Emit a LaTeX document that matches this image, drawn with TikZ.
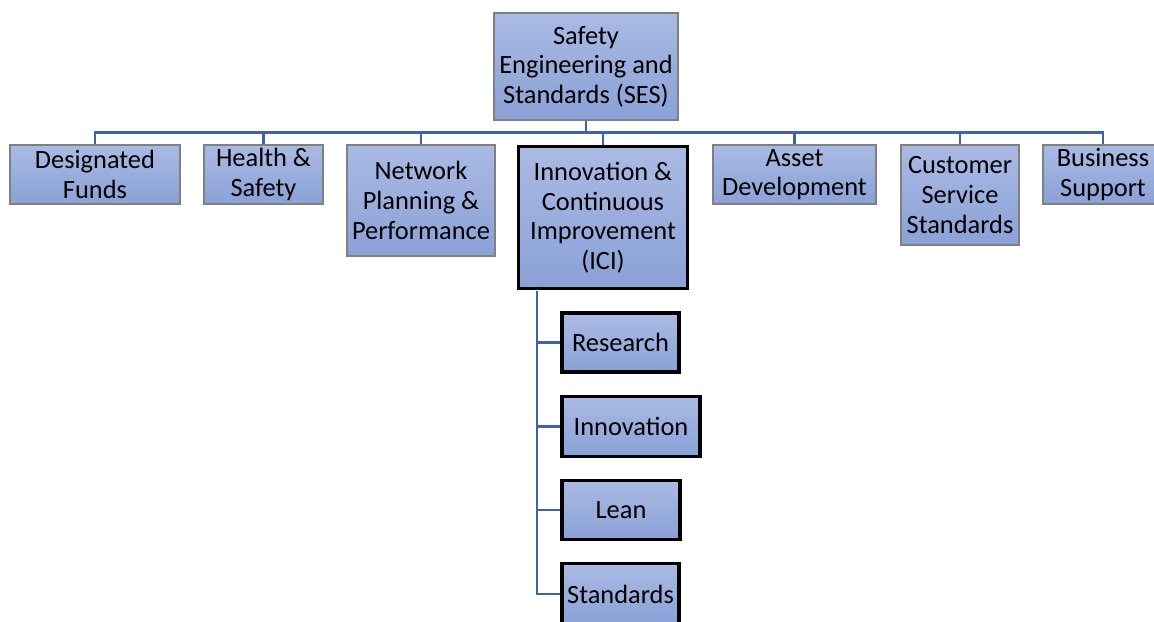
\documentclass[tikz,border=0pt]{standalone}
\usepackage{fontspec}
\setmainfont{Carlito}
\usetikzlibrary{positioning}
\definecolor{orgTop}{HTML}{AABAE3}
\definecolor{orgBottom}{HTML}{8AA1D7}
\definecolor{orgEdge}{HTML}{808080}
\definecolor{orgLink}{HTML}{3D63AB}

\begin{document}
\begin{tikzpicture}[
  x=0.5pt, y=-0.5pt,
  every node/.style={align=center, font=\fontsize{13.2}{14.8}\selectfont, inner sep=0pt},
  box/.style={draw=orgEdge, line width=0.6pt, top color=orgTop, bottom color=orgBottom},
  lead/.style={box, draw=black, line width=1.8pt},
  link/.style={orgLink, line width=1.4pt},
]
  \useasboundingbox (0,0) rectangle (1154,621);

  % top unit
  \node[box, minimum width=92pt, minimum height=53.5pt] (ses) at (586,66.5) {Safety\\Engineering and\\Standards (SES)};

  % departments
  \node[box, minimum width=85pt, minimum height=29.5pt] (df) at (95,174.5) {Designated\\Funds};
  \node[box, minimum width=59.5pt, minimum height=29.5pt] (hs) at (263.5,174.5) {Health \&\\Safety};
  \node[box, minimum width=74pt, minimum height=55.5pt] (npp) at (421,200.5) {Network\\Planning \&\\Performance};
  \node[lead, minimum width=84.5pt, minimum height=71pt] (ici) at (603,217.5) {Innovation \&\\Continuous\\Improvement\\(ICI)};
  \node[box, minimum width=81.5pt, minimum height=29.5pt] (ad) at (794.5,174.5) {Asset\\Development};
  \node[box, minimum width=59pt, minimum height=50pt] (css) at (960,195) {Customer\\Service\\Standards};
  \node[box, minimum width=60pt, minimum height=29.5pt] (bs) at (1103,174.5) {Business\\Support};

  % ICI teams
  \node[lead, minimum width=58.5pt, minimum height=29.5pt] (res) at (620.5,342.5) {Research};
  \node[lead, minimum width=69pt, minimum height=30pt] (inno) at (631,426.5) {Innovation};
  \node[lead, minimum width=59pt, minimum height=29.5pt] (lean) at (621,510) {Lean};
  \node[lead, minimum width=58.5pt, minimum height=30.5pt] (std) at (620.5,594) {Standards};

  \foreach \n in {df,hs,npp,ici,ad,css,bs}
    \draw[link] (ses.south) -- ++(0,12) -| (\n.north);

  \coordinate (spine) at (537,290.5);
  \foreach \n in {res,inno,lean,std}
    \draw[link] (spine) |- (\n.west);
\end{tikzpicture}
\end{document}
